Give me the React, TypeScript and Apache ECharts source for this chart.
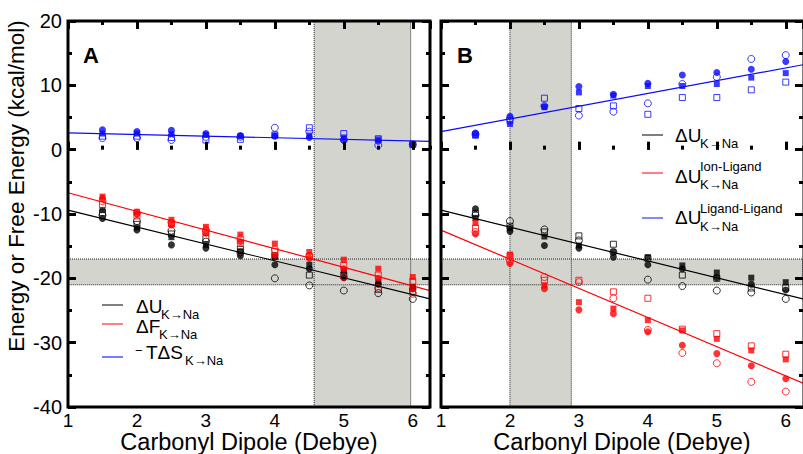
import React, { useEffect, useRef } from "react";
import * as echarts from "echarts";

// ---------- data ----------
const dipoles = [1.5, 2, 2.5, 3, 3.5, 4, 4.5, 5, 5.5, 6];
const fitX = [1, 6.25];

// Panel A
const aBlueFilledCircle = [3.1, 2.8, 3.0, 2.5, 2.2, 2.1, 1.9, 1.5, 1.3, 0.8];
const aBlueFilledSquare = [2.5, 2.5, 2.4, 2.3, 2.1, 2.2, 2.2, 1.9, 1.6, 0.9];
const aBlueOpenCircle = [1.8, 1.8, 1.5, 2.0, 2.0, 3.4, 2.8, 1.5, 0.7, 0.8];
const aBlueOpenSquare = [2.1, 2.1, 1.9, 1.5, 1.6, 2.3, 3.4, 2.5, 1.7, 0.8];
const aBlackFilledCircle = [-10.7, -12.5, -14.8, -15.3, -16.5, -17.9, -18.5, -19.9, -20.9, -21.6];
const aBlackFilledSquare = [-9.4, -12.1, -13.6, -14.8, -15.8, -16.7, -17.9, -19.0, -20.6, -21.3];
const aBlackOpenCircle = [-10.2, -11.1, -12.6, -14.3, -16.0, -20.0, -21.1, -21.9, -22.3, -23.2];
const aBlackOpenSquare = [-9.8, -11.6, -13.1, -13.8, -15.5, -16.5, -19.5, -19.5, -21.7, -22.0];
const aRedFilledCircle = [-7.6, -10.0, -11.7, -13.0, -14.3, -16.4, -16.9, -18.5, -20.0, -21.6];
const aRedFilledSquare = [-7.3, -9.65, -10.9, -12.0, -13.2, -14.6, -15.9, -17.1, -18.5, -19.8];
const aRedOpenCircle = [-8.0, -9.8, -11.3, -12.5, -13.8, -15.5, -16.5, -19.8, -21.5, -22.4];
const aRedOpenSquare = [-8.5, -10.3, -11.5, -12.8, -14.5, -15.8, -16.6, -18.0, -19.5, -20.5];
const aFitU = [-9.4, -23.2];
const aFitF = [-6.7, -21.9];
const aFitTS = [2.6, 1.3];
const aVBand = [4.57, 5.97];

// Panel B
const bBlueFilledCircle = [2.6, 5.2, 6.7, 9.8, 8.6, 10.3, 11.6, 12.0, 12.5, 13.7];
const bBlueFilledSquare = [2.2, 4.0, 6.6, 8.9, 8.4, 9.9, 9.9, 10.2, 11.2, 11.9];
const bBlueOpenCircle = [2.4, 4.8, 6.8, 5.3, 5.9, 7.2, 10.2, 11.3, 14.1, 14.7];
const bBlueOpenSquare = [2.3, 4.5, 8.0, 6.4, 6.8, 5.5, 8.1, 8.1, 9.3, 10.5];
const bBlackFilledCircle = [-9.2, -12.7, -14.9, -15.3, -16.7, -17.9, -18.5, -19.9, -20.9, -21.8];
const bBlackFilledSquare = [-10.6, -12.2, -13.5, -14.9, -15.9, -16.7, -18.0, -19.1, -19.9, -20.6];
const bBlackOpenCircle = [-10.2, -11.1, -12.4, -14.1, -15.9, -20.2, -21.2, -21.9, -22.2, -23.2];
const bBlackOpenSquare = [-9.9, -11.9, -12.8, -13.4, -14.7, -16.9, -19.5, -20.0, -21.5, -21.5];
const bRedFilledCircle = [-13.1, -17.7, -21.6, -24.9, -25.5, -28.3, -30.4, -31.7, -33.6, -35.6];
const bRedFilledSquare = [-11.4, -16.3, -21.1, -23.7, -24.7, -26.5, -28.1, -29.4, -31.2, -32.6];
const bRedOpenCircle = [-12.8, -17.3, -19.8, -20.6, -23.1, -28.0, -31.6, -33.2, -36.1, -37.6];
const bRedOpenSquare = [-12.2, -16.5, -20.3, -20.3, -22.1, -23.1, -27.9, -28.6, -30.5, -31.8];
const bFitU = [-9.4, -23.2];
const bFitIL = [-12.5, -36.3];
const bFitLL = [2.8, 13.2];
const bVBand = [2.0, 2.89];

const hBand = [-17, -21];

const FONT = '"Liberation Sans", Arial, Helvetica, sans-serif';
const BLUE = "#0a0aff";
const RED = "#ff0000";
const BLACK = "#000000";
const BAND = "#d4d4cf";

function scatter(vals: number[], xi: number, yi: number, color: string, symbol: string, filled: boolean) {
  return {
    type: "scatter",
    xAxisIndex: xi,
    yAxisIndex: yi,
    z: 4,
    silent: true,
    symbol,
    symbolSize: symbol === "circle" ? 7 : 6,
    data: dipoles.map((x, i) => [x, vals[i]]),
    itemStyle: filled
      ? { color }
      : { color: "rgba(0,0,0,0)", borderColor: color, borderWidth: 1 },
  };
}

function fit(vals: number[], xi: number, yi: number, color: string) {
  return {
    type: "line",
    xAxisIndex: xi,
    yAxisIndex: yi,
    z: 3,
    silent: true,
    symbol: "none",
    data: [
      [fitX[0], vals[0]],
      [fitX[1], vals[1]],
    ],
    lineStyle: { color, width: 1.2 },
  };
}

function bands(vb: number[], xi: number, yi: number, border: boolean) {
  return {
    type: "line",
    xAxisIndex: xi,
    yAxisIndex: yi,
    z: border ? 2 : 1,
    silent: true,
    data: [],
    markArea: {
      silent: true,
      itemStyle: border
        ? { color: "rgba(0,0,0,0)", borderColor: "#222", borderWidth: 1, borderType: "dotted" }
        : { color: BAND, borderWidth: 0 },
      data: [
        [{ xAxis: vb[0] }, { xAxis: vb[1] }],
        [{ yAxis: hBand[0] }, { yAxis: hBand[1] }],
      ],
    },
  };
}

const tickStyle = { color: "#000", width: 3 };

function xMain(gridIndex: number, position: string, labels: boolean) {
  return {
    type: "value",
    gridIndex,
    position,
    min: 1,
    max: 6.25,
    interval: 1,
    z: 10,
    axisLine: { show: false },
    splitLine: { show: false },
    axisTick: { show: true, inside: true, length: 8, lineStyle: tickStyle },
    axisLabel: {
      show: labels,
      showMaxLabel: false,
      color: "#000",
      fontSize: 19,
      fontFamily: FONT,
      margin: 4,
    },
  };
}

function xMinor(gridIndex: number, position: string) {
  return {
    type: "value",
    gridIndex,
    position,
    min: 1,
    max: 6.25,
    interval: 0.5,
    z: 10,
    axisLine: { show: false },
    splitLine: { show: false },
    axisTick: { show: true, inside: true, length: 4, lineStyle: tickStyle },
    axisLabel: { show: false },
  };
}

function yAx(gridIndex: number, position: string, labels: boolean) {
  return {
    type: "value",
    gridIndex,
    position,
    min: -40,
    max: 20,
    interval: 10,
    z: 10,
    axisLine: { show: false },
    splitLine: { show: false },
    axisTick: { show: true, inside: true, length: 8, lineStyle: tickStyle },
    minorTick: { show: true, splitNumber: 2, length: 4, lineStyle: tickStyle },
    minorSplitLine: { show: false },
    axisLabel: {
      show: labels,
      color: "#000",
      fontSize: 20,
      fontFamily: FONT,
      margin: 6,
    },
  };
}

function txt(x: number, y: number, text: string, size: number, extra: any = {}) {
  return {
    type: "text",
    z: 100,
    silent: true,
    x,
    y,
    rotation: extra.rotation || 0,
    style: {
      text,
      fill: extra.fill || "#000",
      fontSize: size,
      fontFamily: FONT,
      fontWeight: extra.bold ? "bold" : "normal",
      align: extra.align || "left",
      textAlign: extra.align || "left",
      verticalAlign: "middle",
      textVerticalAlign: "middle",
    },
  };
}

function seg(x1: number, x2: number, y: number, color: string, w: number) {
  return {
    type: "line",
    z: 100,
    silent: true,
    shape: { x1, y1: y, x2, y2: y },
    style: { stroke: color, lineWidth: w },
  };
}

const GA = { left: 68, top: 21, width: 362, height: 386 };
const GB = { left: 441, top: 21, width: 363, height: 386 };

export default function App() {
  const ref = useRef<HTMLDivElement>(null);
  useEffect(() => {
    if (!ref.current) return;
    const chart = echarts.init(ref.current, null, { renderer: "svg" });
    const groups = [
      { xi: 0, yi: 0, vb: aVBand,
        blue: [aBlueOpenSquare, aBlueOpenCircle, aBlueFilledSquare, aBlueFilledCircle],
        black: [aBlackOpenSquare, aBlackOpenCircle, aBlackFilledSquare, aBlackFilledCircle],
        red: [aRedOpenSquare, aRedOpenCircle, aRedFilledSquare, aRedFilledCircle],
        fits: [[aFitTS, BLUE], [aFitU, BLACK], [aFitF, RED]] },
      { xi: 4, yi: 2, vb: bVBand,
        blue: [bBlueOpenSquare, bBlueOpenCircle, bBlueFilledSquare, bBlueFilledCircle],
        black: [bBlackOpenSquare, bBlackOpenCircle, bBlackFilledSquare, bBlackFilledCircle],
        red: [bRedOpenSquare, bRedOpenCircle, bRedFilledSquare, bRedFilledCircle],
        fits: [[bFitLL, BLUE], [bFitU, BLACK], [bFitIL, RED]] },
    ];
    const series: any[] = [];
    const kinds: [string, boolean][] = [
      ["rect", false],
      ["circle", false],
      ["rect", true],
      ["circle", true],
    ];
    groups.forEach((g) => {
      series.push(bands(g.vb, g.xi, g.yi, false));
      series.push(bands(g.vb, g.xi, g.yi, true));
      (g.fits as any[]).forEach(([v, c]) => series.push(fit(v, g.xi, g.yi, c)));
      ([ [g.blue, BLUE], [g.black, BLACK], [g.red, RED] ] as any[]).forEach(([sets, c]) => {
        sets.forEach((vals: number[], k: number) =>
          series.push(scatter(vals, g.xi, g.yi, c, kinds[k][0], kinds[k][1]))
        );
      });
    });

    const graphic: any[] = [
      { type: "rect", z: 100, silent: true, shape: { x: GA.left, y: GA.top, width: GA.width, height: GA.height },
        style: { fill: "none", stroke: "#000", lineWidth: 3 } },
      { type: "rect", z: 100, silent: true, shape: { x: GB.left, y: GB.top, width: GB.width, height: GB.height },
        style: { fill: "none", stroke: "#000", lineWidth: 3 } },
      txt(83, 55, "A", 22, { bold: true }),
      txt(457, 55, "B", 22, { bold: true }),
      txt(249, 442, "Carbonyl Dipole (Debye)", 23.5, { align: "center" }),
      txt(622, 442, "Carbonyl Dipole (Debye)", 23.5, { align: "center" }),
      txt(16, 186, "Energy or Free Energy (kcal/mol)", 22.5, { align: "center", rotation: Math.PI / 2 }),
      // legend A
      seg(102, 123, 305, BLACK, 1),
      txt(136, 306, "ΔU", 19),
      txt(161, 314, "K→Na", 13),
      seg(102, 123, 324, RED, 1),
      txt(136, 326, "ΔF", 19),
      txt(159, 334, "K→Na", 13),
      seg(102, 123, 357, "#7480ff", 2),
      txt(135, 350, "−", 13),
      txt(146, 352, "TΔS", 19),
      txt(185, 360, "K→Na", 13),
      // legend B
      seg(642, 663, 135, BLACK, 1),
      txt(675, 135, "ΔU", 19),
      txt(700, 143, "K→Na", 13),
      seg(642, 663, 173, RED, 1),
      txt(675, 176, "ΔU", 19),
      txt(700, 166, "Ion-Ligand", 13),
      txt(700, 184, "K→Na", 13),
      seg(642, 663, 218, BLUE, 1),
      txt(675, 217, "ΔU", 19),
      txt(700, 208, "Ligand-Ligand", 13),
      txt(700, 226, "K→Na", 13),
    ];

    chart.setOption({
      animation: false,
      backgroundColor: "#ffffff",
      grid: [
        { ...GA, containLabel: false },
        { ...GB, containLabel: false },
      ],
      xAxis: [
        xMain(0, "bottom", true),
        xMinor(0, "bottom"),
        xMain(0, "top", false),
        xMinor(0, "top"),
        xMain(1, "bottom", true),
        xMinor(1, "bottom"),
        xMain(1, "top", false),
        xMinor(1, "top"),
      ],
      yAxis: [
        yAx(0, "left", true),
        yAx(0, "right", false),
        yAx(1, "left", false),
        yAx(1, "right", false),
      ],
      series,
      graphic,
    });
    return () => chart.dispose();
  }, []);
  return (
    <div
      ref={ref}
      style={{ width: 803, height: 454, position: "absolute", left: 0, top: 0 }}
    />
  );
}
